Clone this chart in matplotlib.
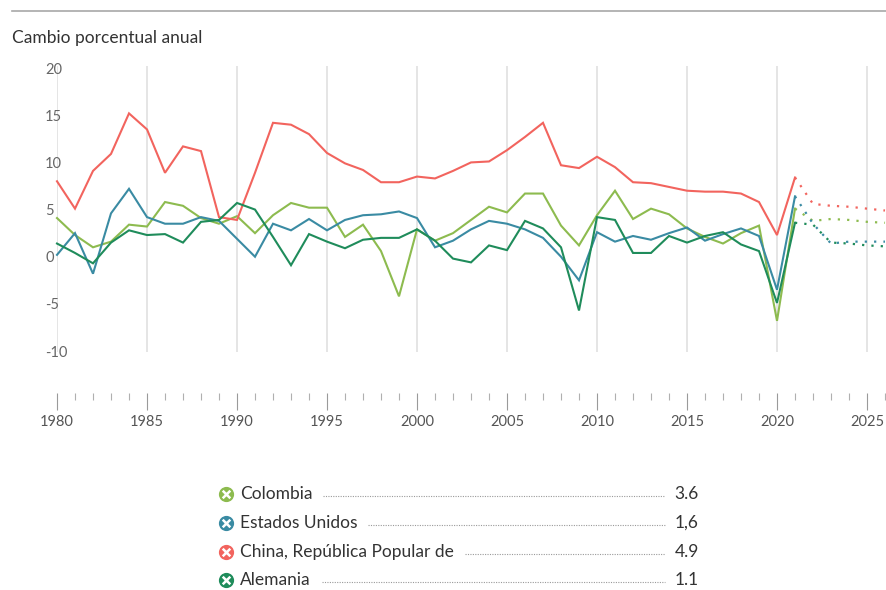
import numpy as np
import matplotlib
matplotlib.use("Agg")
import matplotlib.pyplot as plt

plt.rcParams['font.family'] = ['Lato', 'DejaVu Sans']

# ---- data ----
years_hist = list(range(1980, 2022))
years_fc = list(range(2021, 2027))

colombia_hist = [4.1, 2.3, 1.0, 1.6, 3.4, 3.2, 5.8, 5.4, 4.1, 3.5,
                 4.3, 2.5, 4.4, 5.7, 5.2, 5.2, 2.1, 3.4, 0.6, -4.2,
                 2.9, 1.7, 2.5, 3.9, 5.3, 4.7, 6.7, 6.7, 3.3, 1.2,
                 4.4, 7.0, 4.0, 5.1, 4.5, 3.0, 2.1, 1.4, 2.5, 3.3,
                 -6.8, 5.1]
us_hist = [0.2, 2.5, -1.8, 4.6, 7.2, 4.2, 3.5, 3.5, 4.2, 3.8,
           1.9, 0.0, 3.5, 2.8, 4.0, 2.8, 3.9, 4.4, 4.5, 4.8,
           4.1, 1.0, 1.7, 2.9, 3.8, 3.5, 2.9, 2.0, 0.0, -2.5,
           2.6, 1.6, 2.2, 1.8, 2.5, 3.1, 1.7, 2.4, 3.0, 2.2,
           -3.5, 6.4]
china_hist = [8.0, 5.1, 9.1, 10.9, 15.2, 13.5, 8.9, 11.7, 11.2, 4.2,
              3.9, 8.9, 14.2, 14.0, 13.0, 11.0, 9.9, 9.2, 7.9, 7.9,
              8.5, 8.3, 9.1, 10.0, 10.1, 11.3, 12.7, 14.2, 9.7, 9.4,
              10.6, 9.5, 7.9, 7.8, 7.4, 7.0, 6.9, 6.9, 6.7, 5.8,
              2.3, 8.4]
germany_hist = [1.4, 0.4, -0.7, 1.5, 2.8, 2.3, 2.4, 1.5, 3.7, 3.9,
                5.7, 5.0, 2.1, -0.9, 2.4, 1.6, 0.9, 1.8, 2.0, 2.0,
                2.9, 1.7, -0.2, -0.6, 1.2, 0.7, 3.8, 3.0, 1.0, -5.7,
                4.2, 3.9, 0.4, 0.4, 2.2, 1.5, 2.2, 2.6, 1.3, 0.6,
                -4.9, 3.6]

colombia_fc = [5.1, 3.8, 4.0, 3.9, 3.7, 3.6]
us_fc = [6.4, 3.5, 1.4, 1.6, 1.6, 1.6]
china_fc = [8.4, 5.6, 5.4, 5.3, 5.1, 4.9]
germany_fc = [3.6, 3.4, 1.5, 1.4, 1.2, 1.1]

names = ["Colombia", "Estados Unidos", "China, República Popular de", "Alemania"]
legend_values = ["3.6", "1,6", "4.9", "1.1"]
colors = ["#8dbb4f", "#3a8ba3", "#f2645e", "#1f8c5b"]

y_ticks = [-10, -5, 0, 5, 10, 15, 20]
x_ticks = list(range(1980, 2030, 5))

# ---- figure ----
W, H = 886, 590
fig = plt.figure(figsize=(W / 100, H / 100), dpi=100)

left_px, right_px = 57, 885
top_px, bottom_px = 60, 393
ax = fig.add_axes([left_px / W, 1 - bottom_px / H,
                   (right_px - left_px) / W, (bottom_px - top_px) / H])
ax.set_xlim(1980, 2026)
ax.set_ylim(-14.45, 20.86)
for s in ax.spines.values():
    s.set_visible(False)

ax.vlines(x_ticks, -10.1, 20.2, color="#e3e3e3", lw=1.3, zorder=0)

hist = [colombia_hist, us_hist, china_hist, germany_hist]
fc = [colombia_fc, us_fc, china_fc, germany_fc]
for h, f, c in zip(hist, fc, colors):
    ax.plot(years_hist, h, color=c, lw=1.5, solid_joinstyle='miter', clip_on=False, zorder=3)
    ax.plot(years_fc, f, color=c, lw=1.6, linestyle=(0, (1, 3.2)), clip_on=False, zorder=2)

ax.set_xticks(x_ticks)
ax.set_xticklabels([str(x) for x in x_ticks])
ax.set_xticks(range(1980, 2027), minor=True)
ax.tick_params(axis='x', which='major', length=12, width=0.8, color="#9a9a9a",
               labelsize=10.5, labelcolor="#555555", pad=4)
ax.tick_params(axis='x', which='minor', length=5, width=0.8, color="#b0b0b0")
ax.set_yticks(y_ticks)
ax.set_yticklabels([str(v) for v in y_ticks])
ax.tick_params(axis='y', length=0, labelsize=10.5, labelcolor="#666666", pad=8.6)
for lbl in ax.get_yticklabels():
    lbl.set_horizontalalignment('left')

ov = fig.add_axes([0, 0, 1, 1], zorder=-1)
ov.set_xlim(0, W)
ov.set_ylim(H, 0)
ov.axis('off')
ov.plot([12, 886], [10.5, 10.5], color="#a8a8a8", lw=1.2)
ov.text(12, 38, "Cambio porcentual anual", fontsize=12.5, color="#333333",
        va='center', ha='left')

row_y = [494, 523, 552, 580]
texts = []
for y, name, val, c in zip(row_y, names, legend_values, colors):
    ov.scatter([226], [y], s=120, color=c, zorder=3, linewidths=0)
    ov.scatter([226], [y], s=30, marker='x', color='white', linewidths=1.8, zorder=4)
    t = ov.text(240, y, name, fontsize=12.5, color="#333333", va='center', ha='left')
    texts.append(t)
    ov.text(699, y, val, fontsize=12.5, color="#333333", va='center', ha='right')

fig.canvas.draw()
renderer = fig.canvas.get_renderer()
inv = ov.transData.inverted()
for t, y in zip(texts, row_y):
    bb = t.get_window_extent(renderer)
    x_end = inv.transform((bb.x1, bb.y0))[0]
    ov.plot([x_end + 11, 665], [y + 2, y + 2], color="#9a9a9a", lw=0.8,
            linestyle=(0, (1, 1.2)))

fig.savefig("out.png", dpi=100, facecolor="white")
